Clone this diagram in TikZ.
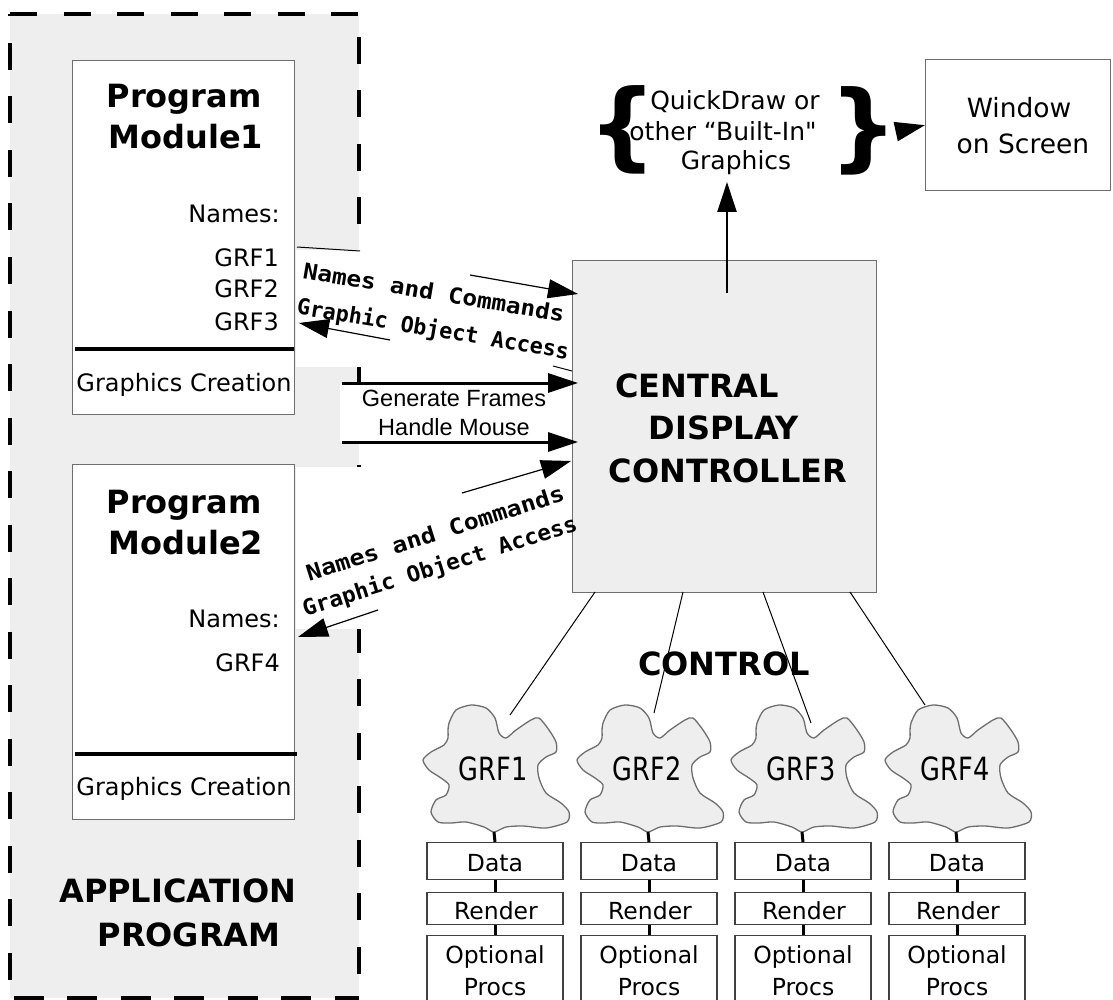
\documentclass[tikz,border=0pt]{standalone}
\usepackage{fontspec}
\setmainfont{DejaVu Sans}
\newfontfamily\plainf{DejaVu Sans}
\newfontfamily\arialf{Liberation Sans}
\newfontfamily\pixf{DejaVu Sans Mono}
\newfontfamily\condf{DejaVu Sans}[FakeStretch=0.8]
\usetikzlibrary{arrows.meta}
\definecolor{appgray}{HTML}{EEEEEE}
\definecolor{edgegray}{HTML}{6E6E6E}
\newcommand{\cloudshape}{%
  \draw[edgegray, line width=1.3pt, fill=appgray] plot[smooth cycle, tension=0.45] coordinates {
  (-45,-45) (-38,-58) (-23,-63) (-8,-60) (1,-50) (5,-35) (12,-30) (22,-38) (37,-48) (45,-50)
  (55,-38) (62,-26) (62,-16) (52,-11) (44,-3) (45,10) (52,25) (67,35) (75,44) (73,54)
  (52,60) (29,58) (12,59) (0,64) (-10,59) (-28,54) (-43,55) (-56,54) (-63,44) (-58,32)
  (-48,27) (-45,17) (-53,10) (-65,2) (-71,-8) (-63,-16) (-50,-23) (-46,-30) (-46,-37)};}
\begin{document}
\begin{tikzpicture}[x=1pt,y=-1pt,
  t/.style={inner sep=0pt, font=\fontsize{24}{28}\selectfont},
  tb/.style={inner sep=0pt, font=\fontsize{32}{38}\selectfont\bfseries},
  tq/.style={inner sep=0pt, font=\fontsize{25}{30}\selectfont\plainf},
  tw/.style={inner sep=0pt, font=\fontsize{26.5}{30}\selectfont},
  tc/.style={inner sep=0pt, font=\fontsize{23.5}{28}\selectfont},
  pix/.style={inner sep=0pt, font=\fontsize{22}{25}\selectfont\pixf\bfseries},
  box/.style={draw=edgegray, line width=1.3pt, inner sep=0pt, anchor=north west},
  colbox/.style={draw=black!75, line width=1.3pt, fill=white, inner sep=0pt, anchor=north, minimum width=136pt},
  appdash/.style={line width=3.5pt, dash pattern=on 27pt off 26.5pt},
  thinarr/.style={line width=1.2pt, -{Triangle[length=30pt,width=19pt]}},
  thickarr/.style={line width=3pt, -{Triangle[length=30pt,width=19pt]}},
  conn/.style={line width=3pt},
  thinline/.style={line width=1pt},
  modline/.style={line width=3.2pt}]
\useasboundingbox (0,0) rectangle (1113,1000);

% application program region
\fill[appgray] (10,14) rectangle (359,998);
\draw[appdash, dash phase=0pt] (10,14) -- (359,14);
\draw[appdash, dash phase=24.5pt] (10,14) -- (10,998);
\draw[appdash, dash phase=30.5pt] (359,14) -- (359,998);
\draw[appdash, dash pattern=on 30pt off 23.5pt, dash phase=50pt] (10,998) -- (359,998);

% white label backgrounds
\fill[white] (296,250) rectangle (573,367);
\fill[white] (296,467) rectangle (573,629);
\fill[white] (340,383) rectangle (572,441);

% Program module 1
\node[box, fill=white, minimum width=222pt, minimum height=354pt] (m1) at (72,60) {};
\node[tb, anchor=base] (m1a) at (184,108) {Program};
\node[tb, anchor=base] (m1b) at (186,149) {Module1};
\node[t, anchor=base east] (m1n) at (280,223) {Names:};
\node[t, anchor=base east] (m1g1) at (279,266) {GRF1};
\node[t, anchor=base east] (m1g2) at (279,298) {GRF2};
\node[t, anchor=base east] (m1g3) at (279,330) {GRF3};
\draw[modline] (75,349) -- (294,349);
\node[t, anchor=base] (m1c) at (184,391) {Graphics Creation};

% Program module 2
\node[box, fill=white, minimum width=222pt, minimum height=355pt] (m2) at (72,464) {};
\node[tb, anchor=base] (m2a) at (184,513) {Program};
\node[tb, anchor=base] (m2b) at (186,554) {Module2};
\node[t, anchor=base east] (m2n) at (280,627) {Names:};
\node[t, anchor=base east] (m2g4) at (280,671) {GRF4};
\draw[modline] (75,754) -- (297,754);
\node[t, anchor=base] (m2c) at (184,795) {Graphics Creation};

\node[tb, anchor=base] (app1) at (178,902) {APPLICATION};
\node[tb, anchor=base] (app2) at (189,946) {PROGRAM};

% central display controller
\node[box, fill=appgray, minimum width=304pt, minimum height=332pt] (cdc) at (572,260) {};
\node[tb, anchor=base] (cdc1) at (697,397) {CENTRAL};
\node[tb, anchor=base] (cdc2) at (724,439) {DISPLAY};
\node[tb, anchor=base] (cdc3) at (728,482) {CONTROLLER};

% QuickDraw and window
\node[tq, anchor=base] (qd1) at (735,110) {QuickDraw or};
\node[tq, anchor=base] (qd2) at (723,141) {other “Built-In"};
\node[tq, anchor=base] (qd3) at (736,170) {Graphics};
\node[inner sep=0pt, font=\fontsize{96}{96}\selectfont\bfseries] (lb) at (623,130) {\{};
\node[inner sep=0pt, font=\fontsize{96}{96}\selectfont\bfseries] (rb) at (864,131) {\}};
\node[box, minimum width=185pt, minimum height=131pt] (win) at (925,59) {};
\node[tw, anchor=base] (win1) at (1019,118) {Window};
\node[tw, anchor=base] (win2) at (1023,154) {on Screen};
\draw[thickarr] (rb.east) -- (win.west);
\coordinate (upS) at (727,293);
\coordinate (upE) at (727,182);
\draw[line width=2.5pt, -{Triangle[length=30pt,width=19pt]}] (upS) -- (upE);

% arrows between modules and controller
\coordinate (a1s) at (470,275);
\coordinate (a1e) at (578,294);
\draw[thinarr] (a1s) -- (a1e);
\coordinate (s1a) at (297,247);
\coordinate (s1b) at (360,251);
\draw[thinline] (s1a) -- (s1b);
\coordinate (a2s) at (390,340);
\coordinate (a2e) at (299,323);
\draw[thinarr] (a2s) -- (a2e);
\coordinate (s2a) at (553,366);
\coordinate (s2b) at (572,371);
\draw[thinline] (s2a) -- (s2b);
\node[pix, rotate=-9.5] (lab1a) at (434,292) {\scalebox{1.11}[1]{Names and Commands}};
\node[pix, rotate=-9.5] (lab1b) at (433,330) {\scalebox{0.99}[1]{Graphic Object Access}};

\coordinate (g1s) at (342,383);
\coordinate (g1e) at (578,383);
\coordinate (g2s) at (342,442);
\coordinate (g2e) at (578,442);
\draw[thickarr] (g1s) -- (g1e);
\draw[thickarr] (g2s) -- (g2e);
\node[inner sep=0pt, anchor=base, font=\fontsize{23.5}{28}\selectfont\arialf] (gen1) at (454,406) {Generate Frames};
\node[inner sep=0pt, anchor=base, font=\fontsize{23.5}{28}\selectfont\arialf] (gen2) at (454,435) {Handle Mouse};

\coordinate (a3s) at (462,493);
\coordinate (a3e) at (571,461);
\draw[thinarr] (a3s) -- (a3e);
\coordinate (a4s) at (378,610);
\coordinate (a4e) at (298,637);
\draw[thinarr] (a4s) -- (a4e);
\node[pix, rotate=17.5] (lab2a) at (435,533) {\scalebox{1.13}[1]{Names and Commands}};
\node[pix, rotate=17.5] (lab2b) at (440,567) {\scalebox{1.03}[1]{Graphic Object Access}};

% control
\node[tb, anchor=base] (ctrl) at (724,675) {CONTROL};

% clouds and columns
\foreach \i/\cx in {1/494,2/648,3/802,4/956}{
  \begin{scope}[shift={(\cx,768)}]
    \cloudshape
  \end{scope}
  \node[inner sep=0pt, font=\fontsize{32}{34}\selectfont\condf] (grf\i) at (\cx-1,768.5) {GRF\i};
  \coordinate (tip\i) at (\cx,832);
  \node[colbox, minimum height=37pt] (data\i) at (\cx+1,842) {};
  \node[tc, anchor=base] (datat\i) at (\cx+1,871) {Data};
  \node[colbox, minimum height=32pt] (rend\i) at (\cx+1,892) {};
  \node[tc, anchor=base] (rendt\i) at (\cx+2,919) {Render};
  \node[colbox, minimum height=80pt] (opt\i) at (\cx+1,935) {};
  \node[tc, anchor=base] (optt\i) at (\cx+1,963) {Optional};
  \node[tc, anchor=base] (optp\i) at (\cx+1,995) {Procs};
  \draw[conn] (tip\i) -- (data\i.north);
  \draw[conn] (data\i.south) -- (rend\i.north);
  \draw[conn] (rend\i.south) -- (opt\i.north);
}

% controller to clouds
\coordinate (cs1) at (595,592);
\coordinate (cs2) at (683,592);
\coordinate (cs3) at (763,592);
\coordinate (cs4) at (850,592);
\coordinate (ce1) at (510,715);
\coordinate (ce2) at (654,713);
\coordinate (ce3) at (811,723);
\coordinate (ce4) at (925,705);
\foreach \i in {1,2,3,4}{\draw[thinline] (cs\i) -- (ce\i);}
\end{tikzpicture}
\end{document}
